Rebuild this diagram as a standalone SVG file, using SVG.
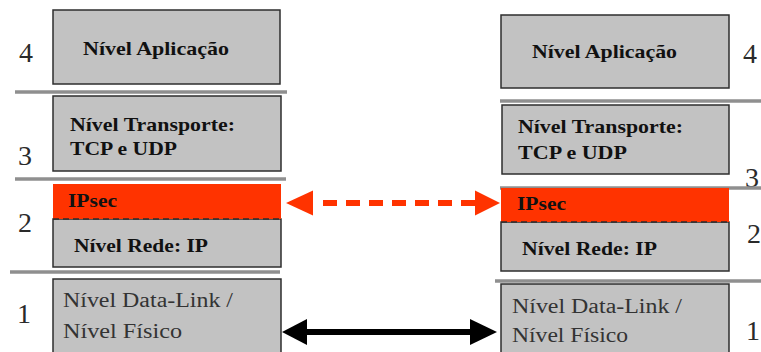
<svg xmlns="http://www.w3.org/2000/svg" width="761" height="352" viewBox="0 0 761 352">
  <defs>
    <style>
      .box { fill: #c2c2c2; stroke: #2e2e2e; stroke-width: 1.5; }
      .sec { fill: #ff3300; stroke: none; }
      .sep { stroke: #8f8f8f; stroke-width: 3.5; fill: none; }
      .dash { stroke: #2e2e2e; stroke-width: 1.3; stroke-dasharray: 6 4; fill: none; }
      .lbl { font-family: "Liberation Serif", "Times New Roman", serif; font-weight: bold; font-size: 19px; fill: #111; }
      .lbl-n { font-family: "Liberation Serif", "Times New Roman", serif; font-size: 20px; fill: #333; }
      .num { font-family: "Liberation Serif", "Times New Roman", serif; font-size: 28px; fill: #2a2a2a; }
    </style>
  </defs>

  <!-- left stack -->
  <g id="left-app">
    <rect class="box" x="53" y="10" width="227" height="74"/>
    <text class="lbl" x="83" y="55" textLength="146" lengthAdjust="spacingAndGlyphs">Nível Aplicação</text>
    <text class="num" x="19" y="62">4</text>
  </g>
  <line class="sep" x1="15" y1="92" x2="287" y2="92"/>
  <g id="left-transport">
    <rect class="box" x="53" y="96" width="228" height="75"/>
    <text class="lbl" x="70" y="131" textLength="165" lengthAdjust="spacingAndGlyphs">Nível Transporte:</text>
    <text class="lbl" x="70" y="155" textLength="107" lengthAdjust="spacingAndGlyphs">TCP e UDP</text>
    <text class="num" x="18" y="165">3</text>
  </g>
  <line class="sep" x1="15" y1="179" x2="286" y2="179"/>
  <g id="left-network">
    <rect class="box" x="53" y="219" width="228" height="48"/>
    <rect class="sec" x="53" y="184" width="228" height="35"/>
    <line class="dash" x1="53" y1="219" x2="281" y2="219"/>
    <text class="lbl" x="68" y="207" textLength="49" lengthAdjust="spacingAndGlyphs">IPsec</text>
    <text class="lbl" x="74" y="252" textLength="134" lengthAdjust="spacingAndGlyphs">Nível Rede: IP</text>
    <text class="num" x="18" y="232">2</text>
  </g>
  <line class="sep" x1="10" y1="272" x2="280" y2="272"/>
  <g id="left-link">
    <rect class="box" x="53" y="279" width="228" height="80"/>
    <text class="lbl-n" x="63" y="307" textLength="170" lengthAdjust="spacingAndGlyphs">Nível Data-Link /</text>
    <text class="lbl-n" x="63" y="338" textLength="119" lengthAdjust="spacingAndGlyphs">Nível Físico</text>
    <text class="num" x="17" y="323">1</text>
  </g>

  <!-- right stack -->
  <g id="right-app">
    <rect class="box" x="501" y="15" width="228" height="73"/>
    <text class="lbl" x="532" y="58" textLength="145" lengthAdjust="spacingAndGlyphs">Nível Aplicação</text>
    <text class="num" x="743" y="63">4</text>
  </g>
  <line class="sep" x1="500" y1="101" x2="761" y2="101"/>
  <g id="right-transport">
    <rect class="box" x="502" y="105" width="227" height="69"/>
    <text class="lbl" x="518" y="133" textLength="165" lengthAdjust="spacingAndGlyphs">Nível Transporte:</text>
    <text class="lbl" x="518" y="159" textLength="109" lengthAdjust="spacingAndGlyphs">TCP e UDP</text>
    <text class="num" x="745" y="187">3</text>
  </g>
  <line class="sep" x1="500" y1="188" x2="761" y2="188"/>
  <g id="right-network">
    <rect class="box" x="501" y="222" width="228" height="49"/>
    <rect class="sec" x="501" y="188" width="228" height="34"/>
    <line class="dash" x1="501" y1="222" x2="729" y2="222"/>
    <text class="lbl" x="517" y="210" textLength="49" lengthAdjust="spacingAndGlyphs">IPsec</text>
    <text class="lbl" x="522" y="255" textLength="135" lengthAdjust="spacingAndGlyphs">Nível Rede: IP</text>
    <text class="num" x="747" y="243">2</text>
  </g>
  <line class="sep" x1="495" y1="281" x2="761" y2="281"/>
  <g id="right-link">
    <rect class="box" x="501" y="284" width="228" height="75"/>
    <text class="lbl-n" x="512" y="313" textLength="170" lengthAdjust="spacingAndGlyphs">Nível Data-Link /</text>
    <text class="lbl-n" x="512" y="342" textLength="116" lengthAdjust="spacingAndGlyphs">Nível Físico</text>
    <text class="num" x="746" y="340">1</text>
  </g>

  <!-- connectors -->
  <g id="connectors">
    <g id="ipsec-link" fill="#ff3300" stroke="none">
      <polygon points="286,203 313,190.5 313,215.5"/>
      <line x1="323" y1="203" x2="475" y2="203" stroke="#ff3300" stroke-width="6" stroke-dasharray="14 9"/>
      <polygon points="500,203 475,190.5 475,215.5"/>
    </g>
    <g id="physical-link" fill="#000" stroke="none">
      <polygon points="282,332 307,319 307,345"/>
      <line x1="305" y1="332" x2="472" y2="332" stroke="#000" stroke-width="6"/>
      <polygon points="497,332 470,319 470,345"/>
    </g>
  </g>
</svg>
